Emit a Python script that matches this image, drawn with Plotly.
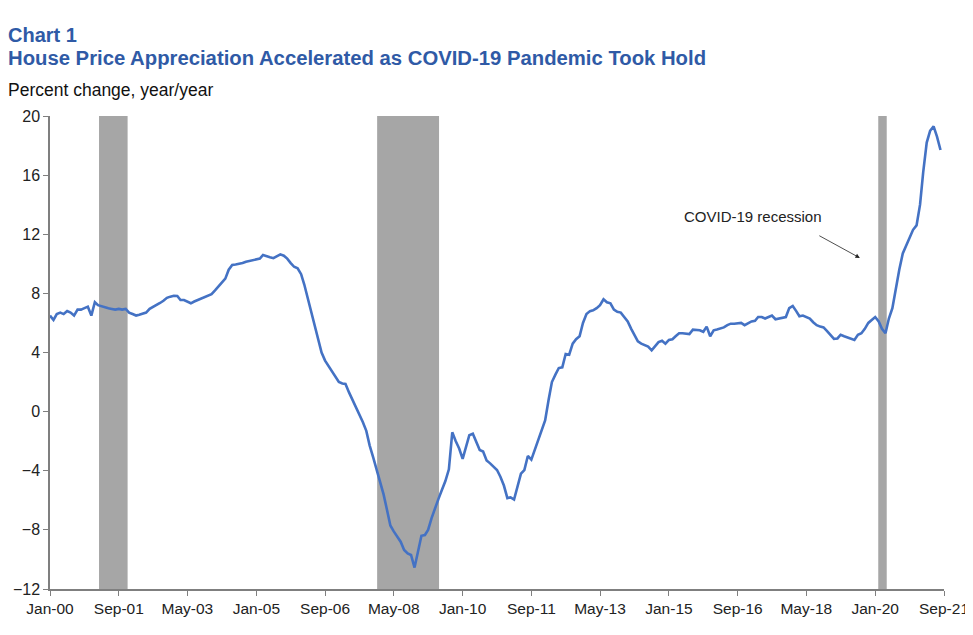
import pandas as pd
import plotly.graph_objects as go

# FHFA-style house price index, percent change year/year, monthly Jan-2000 .. Aug-2021
start_month = "2000-01-01"
hpi_yoy = [
    6.5, 6.2, 6.6, 6.7, 6.6, 6.8, 6.7, 6.5, 6.9, 6.9, 7.0, 7.1,            # 2000
    6.5, 7.4, 7.2, 7.15, 7.1, 7.0, 6.95, 6.9, 6.95, 6.9, 6.95, 6.7,        # 2001
    6.6, 6.5, 6.55, 6.6, 6.7, 6.95, 7.1, 7.25, 7.35, 7.5, 7.7, 7.78,       # 2002
    7.84, 7.82, 7.55, 7.55, 7.45, 7.33, 7.45, 7.55, 7.66, 7.75, 7.89, 7.95,  # 2003
    8.2, 8.45, 8.7, 9.0, 9.6, 9.92, 9.95, 9.99, 10.05, 10.14, 10.2, 10.26,  # 2004
    10.3, 10.35, 10.6, 10.55, 10.45, 10.38, 10.5, 10.64, 10.55, 10.35, 10.05, 9.8,  # 2005
    9.7, 9.3, 8.6, 7.7, 6.8, 5.8, 5.0, 4.0, 3.45, 3.1, 2.7, 2.3,           # 2006
    2.0, 1.9, 1.87, 1.3, 0.8, 0.3, -0.12, -0.7, -1.3, -2.3, -3.1, -3.9,    # 2007
    -4.6, -5.6, -6.6, -7.7, -8.1, -8.5, -8.8, -9.36, -9.6, -9.7, -10.55, -9.5,  # 2008
    -8.4, -8.35, -8.0, -7.2, -6.5, -5.9, -5.3, -4.7, -3.9, -1.4, -2.0, -2.5,    # 2009
    -3.2, -2.3, -1.6, -1.5, -2.1, -2.6, -2.7, -3.3, -3.5, -3.75, -3.95, -4.4,   # 2010
    -5.0, -5.85, -5.8, -5.95, -5.0, -4.2, -3.95, -3.0, -3.25, -2.6, -1.9, -1.4,  # 2011
    -0.6, 0.8, 2.0, 2.5, 2.95, 3.0, 3.9, 3.85, 4.6, 4.9, 5.1, 6.0,         # 2012
    6.6, 6.8, 6.85, 7.0, 7.2, 7.6, 7.4, 7.33, 6.9, 6.75, 6.7, 6.4,         # 2013
    6.1, 5.6, 5.2, 4.75, 4.6, 4.5, 4.4, 4.15, 4.4, 4.7, 4.8, 4.6,          # 2014
    4.85, 4.9, 5.1, 5.3, 5.3, 5.25, 5.25, 5.55, 5.55, 5.5, 5.4, 5.75,      # 2015
    5.1, 5.5, 5.55, 5.6, 5.7, 5.85, 5.95, 5.95, 5.97, 6.0, 5.85, 6.0,      # 2016
    6.1, 6.15, 6.4, 6.4, 6.3, 6.4, 6.5, 6.25, 6.3, 6.3, 6.4, 7.0,          # 2017
    7.15, 6.8, 6.45, 6.5, 6.4, 6.3, 6.05, 5.85, 5.75, 5.7, 5.45, 5.2,      # 2018
    4.92, 4.95, 5.2, 5.1, 5.0, 4.95, 4.85, 5.2, 5.3, 5.6, 6.0, 6.2,        # 2019
    6.4, 6.1, 5.6, 5.3, 6.3, 7.0, 8.4, 9.6, 10.7, 11.2, 11.8, 12.3,        # 2020
    12.6, 14.0, 16.2, 18.2, 19.0, 19.3, 18.6, 17.7,                        # 2021
]

recession_start = ["2001-03-10", "2007-12-06", "2020-01-28"]
recession_end = ["2001-11-18", "2009-06-06", "2020-04-12"]

x_tick_labels = ["Jan-00", "Sep-01", "May-03", "Jan-05", "Sep-06", "May-08", "Jan-10",
                 "Sep-11", "May-13", "Jan-15", "Sep-16", "May-18", "Jan-20", "Sep-21"]
y_ticks = [-12, -8, -4, 0, 4, 8, 12, 16, 20]

dates = pd.date_range(start_month, periods=len(hpi_yoy), freq="MS")
tick_dates = pd.to_datetime(x_tick_labels, format="%b-%y")

BLUE = "#4472C4"
TITLE_BLUE = "#2F5AA6"
FONT = "Liberation Sans, Arial, sans-serif"

fig = go.Figure()

for s, e in zip(recession_start, recession_end):
    fig.add_shape(type="rect", xref="x", yref="y", x0=s, x1=e, y0=-12, y1=20,
                  fillcolor="#A6A6A6", line_width=0, layer="below")

fig.add_trace(go.Scatter(x=dates, y=hpi_yoy, mode="lines",
                         line=dict(color=BLUE, width=2.6), hoverinfo="x+y",
                         showlegend=False))

# arrow pointing at the COVID-19 recession bar
fig.add_annotation(x="2019-08-18", y=10.4, xref="x", yref="y", text="",
                   showarrow=True, arrowhead=2, arrowsize=1.1, arrowwidth=0.8,
                   arrowcolor="#222222", ax=-42, ay=-23)
fig.add_annotation(x="2017-01-15", y=13.2, xref="x", yref="y",
                   text="COVID-19 recession", showarrow=False,
                   font=dict(family=FONT, size=15, color="#222222"))

fig.add_annotation(x=0, y=1, xref="paper", yref="paper", xanchor="left", yanchor="bottom",
                   xshift=-44, yshift=68, text="<b>Chart 1</b>", showarrow=False,
                   font=dict(family=FONT, size=20, color=TITLE_BLUE))
fig.add_annotation(x=0, y=1, xref="paper", yref="paper", xanchor="left", yanchor="bottom",
                   xshift=-44, yshift=45, text="<b>House Price Appreciation Accelerated as COVID-19 Pandemic Took Hold</b>",
                   showarrow=False, font=dict(family=FONT, size=20.3, color=TITLE_BLUE))
fig.add_annotation(x=0, y=1, xref="paper", yref="paper", xanchor="left", yanchor="bottom",
                   xshift=-44, yshift=14, text="Percent change, year/year", showarrow=False,
                   font=dict(family=FONT, size=17.5, color="#111111"))

fig.update_xaxes(type="date", range=[tick_dates[0], tick_dates[-1]],
                 tickvals=tick_dates, ticktext=x_tick_labels, ticklabeloverflow="allow",
                 showgrid=False, zeroline=False, showline=True, linecolor="#7F7F7F", linewidth=1.5,
                 ticks="outside", ticklen=5, tickcolor="#7F7F7F",
                 tickfont=dict(family=FONT, size=15.5, color="#222222"))
fig.update_yaxes(range=[-12, 20], tickvals=y_ticks,
                 showgrid=False, zeroline=False, showline=True, linecolor="#7F7F7F", linewidth=1.5,
                 ticks="outside", ticklen=5, tickcolor="#7F7F7F",
                 tickfont=dict(family=FONT, size=16, color="#222222"))

# page body adds an 8px offset, so sizes and margins are reduced to match the window
fig.update_layout(width=965, height=619,
                  margin=dict(l=42, r=29, t=108, b=38, autoexpand=False),
                  plot_bgcolor="white", paper_bgcolor="white",
                  font=dict(family=FONT))

fig.write_html("out.html")
